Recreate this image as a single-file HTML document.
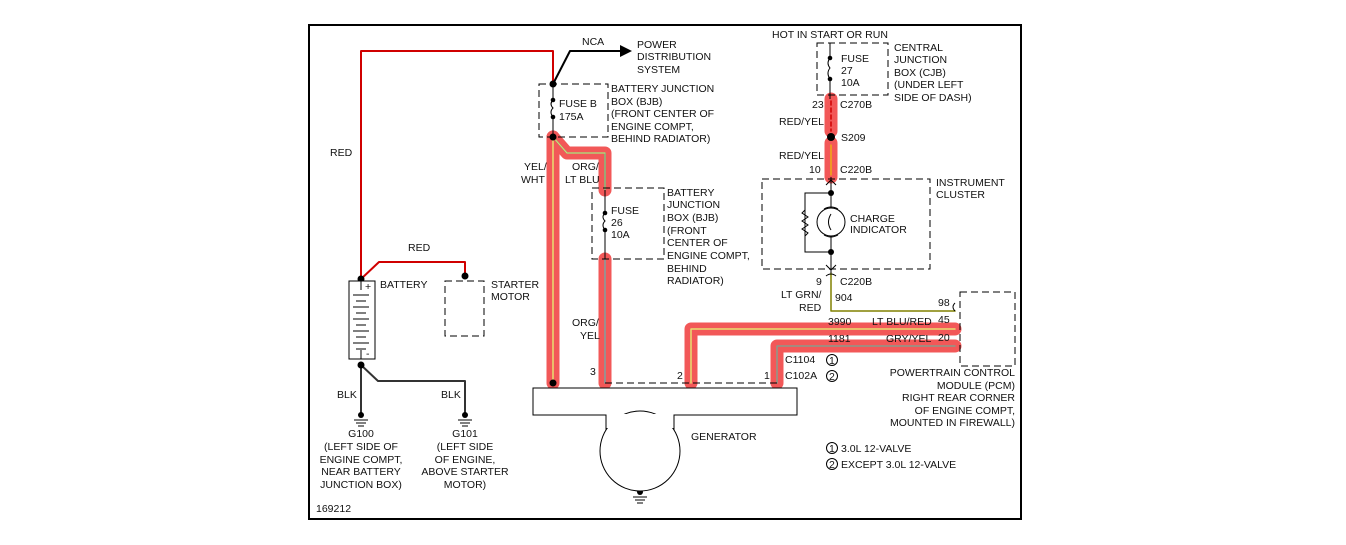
<!DOCTYPE html>
<html><head><meta charset="utf-8"><style>
html,body{margin:0;padding:0;background:#fff;}
svg{display:block;}
text{font-family:"Liberation Sans",Arial,sans-serif;font-size:10.5px;fill:#111;}
</style></head><body>
<svg width="1346" height="545" viewBox="0 0 1346 545" xmlns="http://www.w3.org/2000/svg">
<rect x="309" y="25" width="712" height="494" fill="none" stroke="#000" stroke-width="2"/>
<g fill="none" stroke-linecap="round" stroke-linejoin="round">
<g stroke="#f25858" stroke-width="13">
<path d="M553 137 V383"/>
<path d="M553 137 L567 153 H605 V190"/>
<path d="M605 259 V383"/>
<path d="M691 383 V329 H955"/>
<path d="M777 383 V346 H955"/>
<path d="M831 99 V131"/>
<path d="M831 143 V177"/>
</g>
<path d="M553 137 V383" stroke="#e8e070" stroke-width="1.5"/>
<path d="M553 137 L567 153 H605 V190" stroke="#7fc07f" stroke-width="1.5"/>
<path d="M553 137 L567 153 H605" stroke="#e8e070" stroke-width="0.8"/>
<path d="M605 259 V383" stroke="#7fa0a0" stroke-width="1.5"/>
<path d="M691 383 V329 H955" stroke="#e8e070" stroke-width="1.5"/>
<path d="M777 383 V346 H955" stroke="#8a9a8a" stroke-width="1.5"/>
<path d="M831 101 V131" stroke="#d00000" stroke-width="1.5" stroke-dasharray="4 3"/>
<path d="M831 145 V175" stroke="#f0c000" stroke-width="1.2"/>
<path d="M361 279 V51 H553 V84" stroke="#d00000" stroke-width="2"/>
<path d="M361 279 L379 262 H465 V276" stroke="#d00000" stroke-width="2"/>
<path d="M553 84 L570 51 H622" stroke="#000" stroke-width="2"/>
<path d="M361 365 V413" stroke="#333" stroke-width="2"/>
<path d="M361 365 L378 381 H465 V413" stroke="#333" stroke-width="2"/>
<path d="M831 273 V311 H955" stroke="#808000" stroke-width="1.5"/>
</g>
<polygon points="620,45 632,51 620,57" fill="#000"/>
<g fill="none" stroke="#000" stroke-width="1" stroke-dasharray="7 4">
<rect x="539" y="84" width="69" height="53"/>
<rect x="592" y="188" width="72" height="71"/>
<rect x="817" y="43" width="71" height="52"/>
<rect x="762" y="179" width="168" height="90"/>
<rect x="445" y="281" width="39" height="55"/>
<rect x="960" y="292" width="55" height="74"/>
<path d="M605 383 H777"/>
</g>
<g fill="none" stroke="#000" stroke-width="1">
<path d="M553 84 V100 M553 117 V137 M553 100 q-4 4 0 8 q-4 4 0 9"/>
<path d="M605 190 V213 M605 230 V259 M605 213 q-4 4 0 8 q-4 4 0 9"/>
<path d="M830 43 V58 M830 79 V99 M830 58 q-4 5 0 10 q-4 5 0 11"/>
<path d="M831 177 V208 M831 236 V273 M831 193 H805 V252 H831"/>
<path d="M805 210 l-3 3 l6 4 l-6 4 l6 4 l-6 4 l6 4 l-3 3"/>
<circle cx="831" cy="222" r="14"/>
<path d="M824 209 q7 -4 14 0 M824 235 q7 4 14 0 M831 214 q-5 8 0 16"/>
<path d="M826 185 l5 -5 l5 5 M826 265 l5 5 l5 -5 M826 276 q5 -4 10 0"/>
<path d="M955 311 q-4 -4 0 -8" />
</g>
<g fill="#000">
<circle cx="553" cy="84" r="3.5"/><circle cx="553" cy="100" r="2.3"/><circle cx="553" cy="117" r="2.3"/><circle cx="553" cy="137" r="3.5"/>
<circle cx="605" cy="213" r="2.3"/><circle cx="605" cy="230" r="2.3"/>
<circle cx="830" cy="58" r="2.3"/><circle cx="830" cy="79" r="2.3"/>
<circle cx="831" cy="137" r="4"/><circle cx="831" cy="193" r="3"/><circle cx="831" cy="252" r="3"/>
<circle cx="361" cy="279" r="3.5"/><circle cx="465" cy="276" r="3.5"/><circle cx="361" cy="365" r="3.5"/>
<circle cx="553" cy="383" r="3.5"/>
<circle cx="361" cy="415" r="3"/><circle cx="465" cy="415" r="3"/><circle cx="640" cy="492" r="3"/>
</g>
<rect x="349" y="281" width="26" height="78" fill="#fff" stroke="#000"/>
<g stroke="#000" stroke-width="1">
<path d="M361 281 V290 M361 350 V359"/>
<path d="M353 295 H369 M356 301 H366 M353 307 H369 M356 313 H366 M353 319 H369 M356 325 H366 M353 331 H369 M356 337 H366 M353 343 H369 M356 349 H366"/>
<path d="M354 420 H368 M356 423 H366 M358 426 H364 M458 420 H472 M460 423 H470 M462 426 H468 M633 497 H647 M635 500 H645 M637 503 H643"/>
</g>
<text x="365" y="290" font-size="10">+</text><text x="366" y="357" font-size="10">-</text>
<rect x="533" y="388" width="264" height="27" fill="#fff" stroke="#000"/>
<circle cx="640" cy="451" r="40" fill="#fff" stroke="#000"/>
<rect x="606.5" y="414" width="67" height="14" fill="#fff"/>
<path d="M606 415 V430 M674 415 V430" stroke="#000"/>
<g fill="none" stroke="#000"><circle cx="832" cy="360" r="5.5"/><circle cx="832" cy="376" r="5.5"/><circle cx="832" cy="448" r="5.5"/><circle cx="832" cy="464" r="5.5"/></g>
<text x="582" y="45">NCA</text>
<text x="637" y="48">POWER</text><text x="637" y="60">DISTRIBUTION</text><text x="637" y="73">SYSTEM</text>
<text x="559" y="107">FUSE B</text><text x="559" y="120">175A</text>
<text x="611" y="92">BATTERY JUNCTION</text><text x="611" y="105">BOX (BJB)</text><text x="611" y="117">(FRONT CENTER OF</text><text x="611" y="130">ENGINE COMPT,</text><text x="611" y="142">BEHIND RADIATOR)</text>
<text x="330" y="156">RED</text><text x="408" y="251">RED</text>
<text x="524" y="170">YEL/</text><text x="521" y="183">WHT</text>
<text x="572" y="170">ORG/</text><text x="565" y="183">LT BLU</text>
<text x="611" y="214">FUSE</text><text x="611" y="226">26</text><text x="611" y="238">10A</text>
<text x="667" y="196">BATTERY</text><text x="667" y="208">JUNCTION</text><text x="667" y="221">BOX (BJB)</text><text x="667" y="234">(FRONT</text><text x="667" y="246">CENTER OF</text><text x="667" y="259">ENGINE COMPT,</text><text x="667" y="272">BEHIND</text><text x="667" y="284">RADIATOR)</text>
<text x="572" y="326">ORG/</text><text x="580" y="339">YEL</text>
<text x="590" y="375">3</text><text x="677" y="379">2</text><text x="764" y="379">1</text>
<text x="785" y="363">C1104</text><text x="785" y="379">C102A</text>
<text x="829" y="364" font-size="9">1</text><text x="829" y="380" font-size="9">2</text>
<text x="829" y="452" font-size="9">1</text><text x="829" y="468" font-size="9">2</text>
<text x="841" y="452">3.0L 12-VALVE</text><text x="841" y="468">EXCEPT 3.0L 12-VALVE</text>
<text x="691" y="440">GENERATOR</text>
<text x="772" y="38">HOT IN START OR RUN</text>
<text x="841" y="62">FUSE</text><text x="841" y="74">27</text><text x="841" y="86">10A</text>
<text x="894" y="51">CENTRAL</text><text x="894" y="63">JUNCTION</text><text x="894" y="76">BOX (CJB)</text><text x="894" y="88">(UNDER LEFT</text><text x="894" y="101">SIDE OF DASH)</text>
<text x="812" y="108">23</text><text x="840" y="108">C270B</text>
<text x="779" y="125">RED/YEL</text><text x="841" y="141">S209</text>
<text x="779" y="159">RED/YEL</text>
<text x="809" y="173">10</text><text x="840" y="173">C220B</text>
<text x="936" y="186">INSTRUMENT</text><text x="936" y="198">CLUSTER</text>
<text x="850" y="222">CHARGE</text><text x="850" y="233">INDICATOR</text>
<text x="816" y="285">9</text><text x="840" y="285">C220B</text>
<text x="781" y="298">LT GRN/</text><text x="799" y="311">RED</text><text x="835" y="301">904</text>
<text x="938" y="306">98</text><text x="938" y="323">45</text><text x="938" y="341">20</text>
<text x="828" y="325">3990</text><text x="872" y="325">LT BLU/RED</text>
<text x="828" y="342">1181</text><text x="886" y="342">GRY/YEL</text>
<g text-anchor="end"><text x="1015" y="376">POWERTRAIN CONTROL</text><text x="1015" y="389">MODULE (PCM)</text><text x="1015" y="401">RIGHT REAR CORNER</text><text x="1015" y="414">OF ENGINE COMPT,</text><text x="1015" y="426">MOUNTED IN FIREWALL)</text></g>
<text x="380" y="288">BATTERY</text>
<text x="491" y="288">STARTER</text><text x="491" y="300">MOTOR</text>
<text x="337" y="398">BLK</text><text x="441" y="398">BLK</text>
<g text-anchor="middle">
<text x="361" y="437">G100</text><text x="361" y="450">(LEFT SIDE OF</text><text x="361" y="463">ENGINE COMPT,</text><text x="361" y="475">NEAR BATTERY</text><text x="361" y="488">JUNCTION BOX)</text>
<text x="465" y="437">G101</text><text x="465" y="450">(LEFT SIDE</text><text x="465" y="463">OF ENGINE,</text><text x="465" y="475">ABOVE STARTER</text><text x="465" y="488">MOTOR)</text>
</g>
<text x="316" y="512">169212</text>
</svg>
</body></html>
